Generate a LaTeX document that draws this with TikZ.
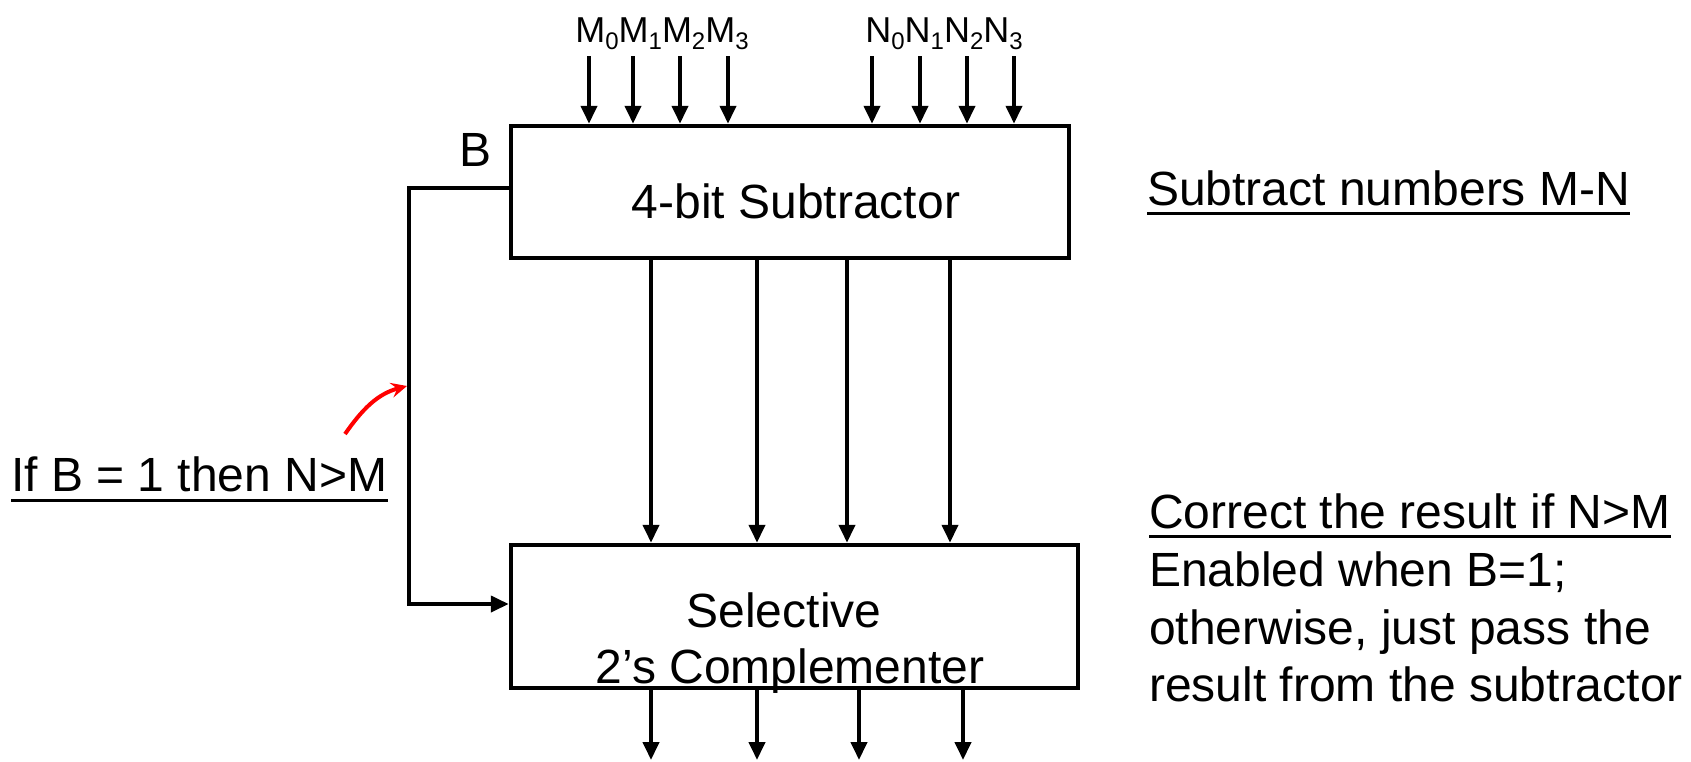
\documentclass[tikz,border=0pt]{standalone}
\usepackage{fontspec}
\setmainfont{Liberation Sans}
\usetikzlibrary{arrows.meta,calc}
\newcommand{\sbs}[1]{\lower7pt\hbox{\fontsize{24}{24}\selectfont #1}}
\begin{document}
\begin{tikzpicture}[x=1pt,y=-1pt,
  blockbox/.style={draw,line width=4.5pt,inner sep=0pt},
  wire/.style={line width=4pt},
  arr/.style={wire,-{Triangle[length=18pt,width=16pt]}},
  big/.style={font=\fontsize{48}{58}\selectfont,inner sep=0pt},
  small/.style={font=\fontsize{36}{40}\selectfont,inner sep=0pt},
  note/.style={big,anchor=base west},
  uline/.style={line width=3pt}]
\useasboundingbox (0,0) rectangle (1691,761);

% blocks
\node[blockbox,minimum width=558pt,minimum height=132pt] (sub) at (790,192) {};
\node[blockbox,minimum width=567pt,minimum height=143pt] (comp) at (794.5,616.5) {};
\node[big,anchor=base] (subtxt) at (796,218) {4-bit Subtractor};
\node[big,anchor=base] (comptxtA) at (784,627) {Selective};
\node[big,anchor=base] (comptxtB) at (790,683) {2’s Complementer};
\node[big,anchor=base] (blab) at (476,166) {B};

% input labels
\node[small,anchor=base] (mlab) at (662,42) {M\sbs{0}M\sbs{1}M\sbs{2}M\sbs{3}};
\node[small,anchor=base] (nlab) at (944,42) {N\sbs{0}N\sbs{1}N\sbs{2}N\sbs{3}};

% inputs M
\foreach \i/\x in {0/589,1/633,2/680,3/728}{
  \coordinate (m\i) at (\x,56);
  \draw[arr] (m\i) -- (m\i |- sub.north);
}
% inputs N
\foreach \i/\x in {0/872,1/920,2/967,3/1014}{
  \coordinate (n\i) at (\x,56);
  \draw[arr] (n\i) -- (n\i |- sub.north);
}
% subtractor -> complementer
\foreach \i/\x in {0/651,1/757,2/847,3/950}{
  \coordinate (d\i) at (\x,258);
  \draw[arr] (d\i |- sub.south) -- (d\i |- comp.north);
}
% outputs
\foreach \i/\x in {0/651,1/757,2/859,3/963}{
  \coordinate (o\i) at (\x,760);
  \draw[arr] (o\i |- comp.south) -- (o\i);
}
% B wire
\coordinate (bTop) at (409,188);
\coordinate (bBot) at (409,604);
\draw[wire,-{Triangle[length=18pt,width=16pt]}] (sub.west |- bTop) -- (bTop) -- (bBot) -- (comp.west |- bBot);

% left note
\node[note] (ifb) at (11,491) {If B = 1 then N>M};
\draw[uline] ($(ifb.base west)+(0,9)$) -- ($(ifb.base east)+(0,9)$);
\coordinate (rs) at (345,434);
\coordinate (re) at (407,386);
\draw[red,line width=4pt,-{Stealth[length=16pt,width=15pt,inset=6pt]}] (rs) to[out=55,in=195] (re);

% right notes
\node[note] (t1) at (1147,205) {Subtract numbers M-N};
\draw[uline] ($(t1.base west)+(0,8)$) -- ($(t1.base east)+(0,8)$);
\node[note] (t2) at (1149,528) {Correct the result if N>M};
\draw[uline] ($(t2.base west)+(0,8)$) -- ($(t2.base east)+(0,8)$);
\node[note] (t3) at (1149,586) {Enabled when B=1;};
\node[note] (t4) at (1149,644) {otherwise, just pass the};
\node[note] (t5) at (1149,701) {result from the subtractor};
\end{tikzpicture}
\end{document}
